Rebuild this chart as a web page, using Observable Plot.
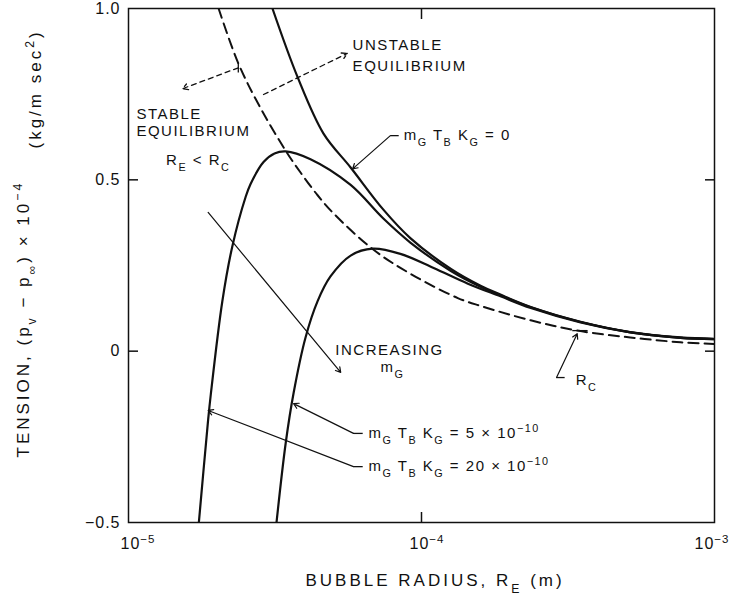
<!DOCTYPE html>
<html>
<head>
<meta charset="utf-8">
<script src="https://cdn.jsdelivr.net/npm/d3@7"></script>
<script src="https://cdn.jsdelivr.net/npm/@observablehq/plot@0.6"></script>
<style>
html, body { margin: 0; padding: 0; background: #fff; }
#chart { width: 736px; height: 608px; }
</style>
</head>
<body>
<div id="chart"></div>
<script>
// ---------- data ----------
// mG TB KG = 0 (solid)
const radiusMG0  = [3.10e-5, 3.78e-5, 4.63e-5, 5.73e-5, 7.41e-5, 9.16e-5, 1.26e-4, 1.59e-4, 1.86e-4, 2.36e-4, 3.49e-4, 5.16e-4, 7.66e-4, 1e-3];
const tensionMG0 = [1.000, 0.799, 0.635, 0.536, 0.413, 0.330, 0.240, 0.191, 0.165, 0.129, 0.086, 0.056, 0.040, 0.036];

// critical radius R_C (dashed)
const radiusRC  = [2.03e-5, 2.37e-5, 2.82e-5, 3.44e-5, 3.86e-5, 4.42e-5, 5.01e-5, 6.81e-5, 9.16e-5, 1.33e-4, 1.59e-4, 2.36e-4, 3.40e-4, 5.16e-4, 7.66e-4, 1e-3];
const tensionRC = [1.000, 0.840, 0.710, 0.585, 0.522, 0.455, 0.402, 0.298, 0.226, 0.155, 0.132, 0.090, 0.060, 0.040, 0.026, 0.021];

// mG TB KG = 20 x 10^-10 (solid, left peak)
const radiusMG20  = [1.73e-5, 1.87e-5, 1.91e-5, 2.09e-5, 2.26e-5, 2.51e-5, 2.61e-5, 2.89e-5, 3.15e-5, 3.44e-5, 4.18e-5, 5.73e-5, 7.41e-5, 9.16e-5, 1.26e-4, 1.59e-4, 1.86e-4, 2.36e-4, 3.49e-4, 5.16e-4, 7.66e-4, 1e-3];
const tensionMG20 = [-0.520, -0.200, -0.125, 0.145, 0.305, 0.450, 0.488, 0.552, 0.577, 0.583, 0.560, 0.485, 0.387, 0.317, 0.234, 0.188, 0.163, 0.128, 0.085, 0.055, 0.039, 0.035];

// mG TB KG = 5 x 10^-10 (solid, right peak)
const radiusMG5  = [3.20e-5, 3.44e-5, 3.66e-5, 4.02e-5, 4.42e-5, 4.89e-5, 5.73e-5, 6.81e-5, 8.47e-5, 1.10e-4, 1.44e-4, 1.86e-4, 2.36e-4, 3.49e-4, 5.16e-4, 7.66e-4, 1e-3];
const tensionMG5 = [-0.500, -0.268, -0.122, 0.040, 0.146, 0.218, 0.279, 0.299, 0.284, 0.243, 0.197, 0.160, 0.126, 0.084, 0.055, 0.039, 0.035];

// axes
const xDomain = [1e-5, 1e-3];
const yDomain = [-0.5, 1.0];
const xTickValues = [1e-5, 1e-4, 1e-3];
const xTickLabels = ["10^{−5}", "10^{−4}", "10^{−3}"];
const yTickValues = [-0.5, 0, 0.5, 1.0];
const yTickLabels = ["−0.5", "0", "0.5", "1.0"];
const xInnerTicks = [1e-4];
const yInnerTicks = [0, 0.5];
const xTitle = "BUBBLE RADIUS, R_{E} (m)";
const yTitleMain = "TENSION, (p_{v} − p_{∞}) × 10^{−4}";
const yTitleUnit = "(kg/m sec^{2})";

// annotations (data coordinates)
const noteText = ["UNSTABLE", "EQUILIBRIUM", "STABLE", "EQUILIBRIUM", "R_{E} < R_{C}",
                  "m_{G} T_{B} K_{G} = 0", "INCREASING", "m_{G}",
                  "m_{G} T_{B} K_{G} = 5 × 10^{−10}", "m_{G} T_{B} K_{G} = 20 × 10^{−10}", "R_{C}"];
const noteX = [5.82e-5, 5.82e-5, 1.064e-5, 1.064e-5, 1.73e-5, 8.69e-5, 5.08e-5, 7.24e-5, 6.59e-5, 6.59e-5, 3.36e-4];
const noteY = [0.892, 0.831, 0.693, 0.641, 0.556, 0.629, 0.002, -0.048, -0.240, -0.337, -0.086];
const noteAnchor = ["start", "start", "start", "start", "middle", "start", "start", "start", "start", "start", "start"];

// solid leader arrows
const arrowX1 = [7.83e-5, 1.87e-5, 5.86e-5, 5.86e-5, 2.89e-4];
const arrowY1 = [0.629, 0.405, -0.240, -0.337, -0.077];
const arrowX2 = [5.82e-5, 5.30e-5, 3.66e-5, 1.87e-5, 3.40e-4];
const arrowY2 = [0.532, -0.062, -0.153, -0.173, 0.051];
// dashed arrows (stable / unstable)
const dashX1 = [2.37e-5, 2.89e-5];
const dashY1 = [0.827, 0.749];
const dashX2 = [1.53e-5, 5.58e-5];
const dashY2 = [0.766, 0.869];
// short leader stubs and marker bars
const stubX1 = [8.36e-5, 6.30e-5, 6.30e-5, 3.08e-4, 3.27e-4, 2.37e-5];
const stubY1 = [0.629, -0.240, -0.337, -0.077, 0.060, 0.842];
const stubX2 = [7.83e-5, 5.86e-5, 5.86e-5, 2.89e-4, 3.69e-4, 2.37e-5];
const stubY2 = [0.629, -0.240, -0.337, -0.077, 0.060, 0.813];

// ---------- build ----------
const zip = (xs, ys) => xs.map((x, i) => ({r: x, t: ys[i]}));
const idx = (a) => a.map((_, i) => i);
const ink = "#111";
const xLabelShift = [-8, -12, -20]; // layout nudge of each x tick label

const chart = Plot.plot({
  width: 736,
  height: 608,
  marginLeft: 128,
  marginRight: 22,
  marginTop: 8,
  marginBottom: 86,
  style: {fontFamily: "'Liberation Sans', Arial, sans-serif", color: ink, background: "#fff"},
  x: {type: "log", domain: xDomain},
  y: {domain: yDomain},
  marks: [
    Plot.frame({stroke: ink, strokeWidth: 1.5}),
    Plot.axisY(yInnerTicks, {anchor: "left", tickSize: -10, tickFormat: () => "", label: null, strokeWidth: 1.5}),
    Plot.axisY(yInnerTicks, {anchor: "right", tickSize: -10, tickFormat: () => "", label: null, strokeWidth: 1.5}),
    Plot.axisX(xInnerTicks, {anchor: "top", tickSize: -10, tickFormat: () => "", label: null, strokeWidth: 1.5}),
    Plot.axisX(xInnerTicks, {anchor: "bottom", tickSize: -10, tickFormat: () => "", label: null, strokeWidth: 1.5}),
    // tick labels
    Plot.text(yTickValues, {y: d => d, text: (d, i) => yTickLabels[i], frameAnchor: "left", dx: -8, textAnchor: "end", fontSize: 16}),
    ...xTickValues.map((v, i) => Plot.text([v], {x: d => d, text: () => xTickLabels[i], frameAnchor: "bottom", dy: 26, dx: xLabelShift[i], textAnchor: "start", fontSize: 16})),
    // axis titles
    Plot.text([xTitle], {text: d => d, frameAnchor: "bottom-left", dx: 177, dy: 63, textAnchor: "start", fontSize: 17}),
    Plot.text([yTitleMain], {text: d => d, frameAnchor: "bottom-left", dx: -100, dy: -65, textAnchor: "start", rotate: -90, fontSize: 17}),
    Plot.text([yTitleUnit], {text: d => d, frameAnchor: "top-left", dx: -100, dy: 140, textAnchor: "start", rotate: -90, fontSize: 17}),
    // curves
    Plot.line(zip(radiusRC, tensionRC), {x: "r", y: "t", curve: "catmull-rom", stroke: ink, strokeWidth: 2, strokeDasharray: "10,6", clip: true}),
    Plot.line(zip(radiusMG0, tensionMG0), {x: "r", y: "t", curve: "catmull-rom", stroke: ink, strokeWidth: 2.2, clip: true}),
    Plot.line(zip(radiusMG20, tensionMG20), {x: "r", y: "t", curve: "catmull-rom", stroke: ink, strokeWidth: 2.2, clip: true}),
    Plot.line(zip(radiusMG5, tensionMG5), {x: "r", y: "t", curve: "catmull-rom", stroke: ink, strokeWidth: 2.2, clip: true}),
    // annotations
    Plot.arrow(idx(arrowX1), {x1: i => arrowX1[i], y1: i => arrowY1[i], x2: i => arrowX2[i], y2: i => arrowY2[i], stroke: ink, strokeWidth: 1.2, headLength: 7}),
    Plot.arrow(idx(dashX1), {x1: i => dashX1[i], y1: i => dashY1[i], x2: i => dashX2[i], y2: i => dashY2[i], stroke: ink, strokeWidth: 1.3, strokeDasharray: "5,4", headLength: 7}),
    Plot.link(idx(stubX1), {x1: i => stubX1[i], y1: i => stubY1[i], x2: i => stubX2[i], y2: i => stubY2[i], stroke: ink, strokeWidth: 1.3}),
    Plot.text(idx(noteText).filter(i => noteAnchor[i] === "start"), {x: i => noteX[i], y: i => noteY[i], text: i => noteText[i], textAnchor: "start", fontSize: 15}),
    Plot.text(idx(noteText).filter(i => noteAnchor[i] === "middle"), {x: i => noteX[i], y: i => noteY[i], text: i => noteText[i], textAnchor: "middle", fontSize: 15})
  ]
});

// rich text: _{sub} and ^{sup}
const SVGNS = "http://www.w3.org/2000/svg";
chart.querySelectorAll("text").forEach(el => {
  const s = el.textContent;
  if (!/[_^]\{/.test(s)) return;
  while (el.firstChild) el.removeChild(el.firstChild);
  const add = (str, kind) => {
    if (!str) return;
    const t = document.createElementNS(SVGNS, "tspan");
    t.textContent = str;
    if (kind) {
      t.setAttribute("font-size", "72%");
      t.setAttribute("baseline-shift", kind === "_" ? "sub" : "super");
    }
    el.appendChild(t);
  };
  const re = /([_^])\{([^}]*)\}/g;
  let last = 0, m;
  while ((m = re.exec(s))) {
    add(s.slice(last, m.index), null);
    add(m[2], m[1]);
    last = re.lastIndex;
  }
  add(s.slice(last), null);
});
// letter spacing by size
const spacing = {"15": "1.5px", "16": "1px", "17": "3px"};
chart.querySelectorAll("g[font-size]").forEach(g => {
  const ls = spacing[g.getAttribute("font-size")];
  if (ls) g.style.letterSpacing = ls;
});

document.getElementById("chart").appendChild(chart);
</script>
</body>
</html>
